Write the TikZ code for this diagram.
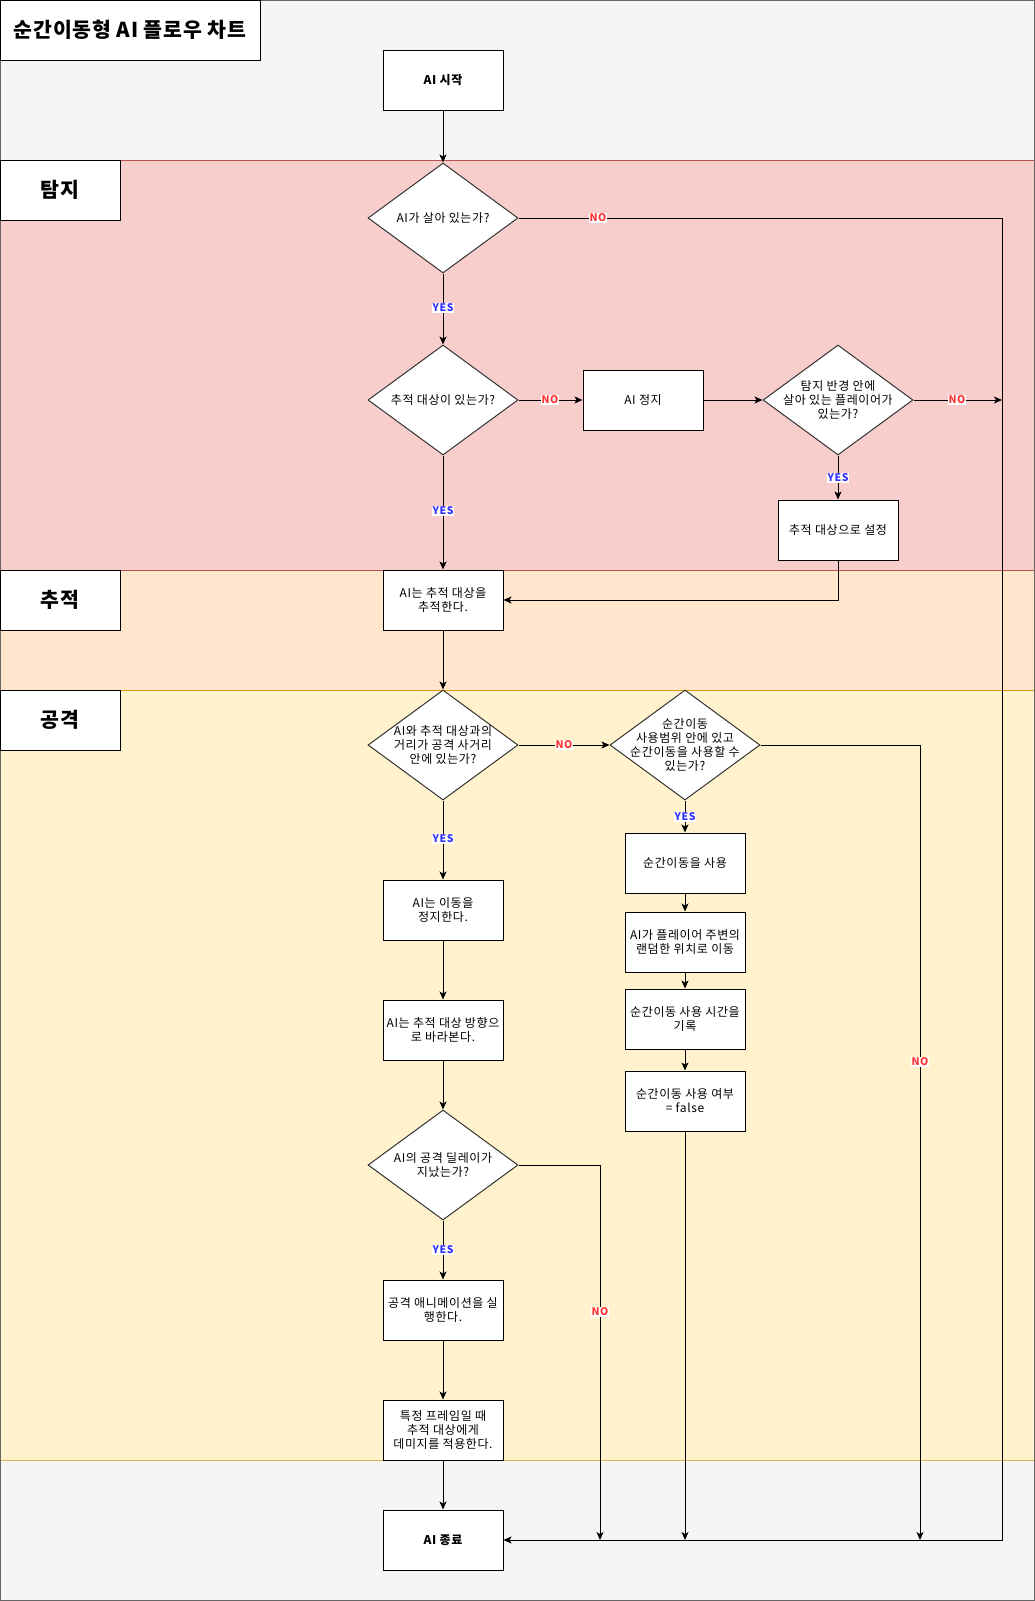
\documentclass[tikz,border=0pt]{standalone}
\usepackage{fontspec}
\setmainfont{Noto Sans CJK KR}
\usetikzlibrary{shapes.geometric,arrows.meta}
\definecolor{bgG}{HTML}{F5F5F5}
\definecolor{bgB}{HTML}{666666}
\definecolor{laneA}{HTML}{F8CECC}
\definecolor{laneAb}{HTML}{B85450}
\definecolor{laneB}{HTML}{FFE6CC}
\definecolor{laneBb}{HTML}{D79B00}
\definecolor{laneC}{HTML}{FFF2CC}
\definecolor{laneCb}{HTML}{D6B656}
\definecolor{noC}{HTML}{FF3333}
\definecolor{yesC}{HTML}{3333FF}
\newcommand{\nodefont}{\fontsize{12}{14}\selectfont\addfontfeatures{LetterSpace=5}}
\newcommand{\bignodefont}{\fontsize{20.5}{24}\selectfont\bfseries\addfontfeatures{LetterSpace=4}}
\newcommand{\labfont}{\fontsize{10.5}{12}\selectfont\bfseries\addfontfeatures{LetterSpace=6}}
\tikzset{
  box/.style={draw=black, fill=white, line width=1pt, minimum width=120pt, minimum height=60pt, inner sep=0pt, align=center, font=\nodefont},
  boldbox/.style={box, font=\nodefont\bfseries},
  dia/.style={draw=black!80, fill=white, line width=1pt, shape=diamond, minimum width=150pt, minimum height=110pt, inner sep=0pt},
  diatext/.style={align=center, inner sep=0pt, font=\nodefont},
  lanelabel/.style={draw=black, fill=white, line width=1pt, minimum width=120pt, minimum height=60pt, inner sep=0pt, font=\bignodefont},
  arr/.style={draw=black, line width=1pt, -{Stealth[length=8pt,width=7pt,inset=2pt]}},
  nolab/.style={fill=white, text=noC, inner sep=1pt, font=\labfont},
  yeslab/.style={fill=white, text=yesC, inner sep=1pt, font=\labfont}
}
\begin{document}
\begin{tikzpicture}[x=1pt,y=-1pt]
\useasboundingbox (0,0) rectangle (1035,1601);
% background
\fill[bgG] (0,0) rectangle (1035,1601);
% lanes
\draw[fill=laneC, draw=laneCb, line width=1pt] (0,690) rectangle (1034,1460);
\draw[fill=laneB, draw=laneBb, line width=1pt] (0,570) rectangle (1034,690);
\draw[fill=laneA, draw=laneAb, line width=1pt] (0,160) rectangle (1034,570);
\draw[bgB, line width=1pt] (0,0) rectangle (1034,1600);
% title and lane labels
\node[draw=black, fill=white, line width=1pt, minimum width=260pt, minimum height=60pt, inner sep=0pt, font=\bignodefont] (title) at (130,30) {순간이동형 AI 플로우 차트};
\node[lanelabel] (lane1) at (60,190) {탐지};
\node[lanelabel] (lane2) at (60,600) {추적};
\node[lanelabel] (lane3) at (60,720) {공격};

% nodes
\node[boldbox] (start) at (443,80) {AI 시작};
\node[dia] (d1) at (443,218) {};
\node[diatext] (d1t) at (d1) {AI가 살아 있는가?};
\node[dia] (d2) at (443,400) {};
\node[diatext] (d2t) at (d2) {추적 대상이 있는가?};
\node[box] (stop) at (643,400) {AI 정지};
\node[dia] (d3) at (838,400) {};
\node[diatext] (d3t) at (d3) {탐지 반경 안에\\살아 있는 플레이어가\\있는가?};
\node[box] (settgt) at (838,530) {추적 대상으로 설정};
\node[box] (track) at (443,600) {AI는 추적 대상을\\추적한다.};
\node[dia] (d4) at (443,745) {};
\node[diatext] (d4t) at (d4) {AI와 추적 대상과의\\거리가 공격 사거리\\안에 있는가?};
\node[dia] (d5) at (685,745) {};
\node[diatext] (d5t) at (d5) {순간이동\\사용범위 안에 있고\\순간이동을 사용할 수\\있는가?};
\node[box] (tp1) at (685,863) {순간이동을 사용};
\node[box] (tp2) at (685,942) {AI가 플레이어 주변의\\랜덤한 위치로 이동};
\node[box] (tp3) at (685,1019) {순간이동 사용 시간을\\기록};
\node[box] (tp4) at (685,1101) {순간이동 사용 여부\\= false};
\node[box] (halt) at (443,910) {AI는 이동을\\정지한다.};
\node[box] (look) at (443,1030) {AI는 추적 대상 방향으\\로 바라본다.};
\node[dia] (d6) at (443,1165) {};
\node[diatext] (d6t) at (d6) {AI의 공격 딜레이가\\지났는가?};
\node[box] (anim) at (443,1310) {공격 애니메이션을 실\\행한다.};
\node[box] (dmg) at (443,1430) {특정 프레임일 때\\추적 대상에게\\데미지를 적용한다.};
\node[boldbox] (end) at (443,1540) {AI 종료};

% coordinates
\coordinate (c1a) at (1002,218);
\coordinate (c1b) at (1002,1540);
\coordinate (c3) at (1002,400);
\coordinate (c5a) at (920,745);
\coordinate (c5b) at (920,1540);
\coordinate (c6a) at (600,1165);
\coordinate (c6b) at (600,1540);
\coordinate (c4) at (685,1540);
\coordinate (cs) at (838,600);

% edges
\draw[arr] (start) -- (d1);
\draw[arr] (d1.east) -- (c1a) -- (c1b) -- (end.east);
\draw[arr] (d1) -- (d2);
\draw[arr] (d2) -- (stop);
\draw[arr] (stop) -- (d3);
\draw[arr] (d3.east) -- (c3);
\draw[arr] (d3) -- (settgt);
\draw[arr] (d2) -- (track);
\draw[arr] (settgt.south) -- (cs) -- (track.east);
\draw[arr] (track) -- (d4);
\draw[arr] (d4) -- (d5);
\draw[arr] (d5.east) -- (c5a) -- (c5b);
\draw[arr] (d5) -- (tp1);
\draw[arr] (tp1) -- (tp2);
\draw[arr] (tp2) -- (tp3);
\draw[arr] (tp3) -- (tp4);
\draw[arr] (tp4.south) -- (c4);
\draw[arr] (d4) -- (halt);
\draw[arr] (halt) -- (look);
\draw[arr] (look) -- (d6);
\draw[arr] (d6.east) -- (c6a) -- (c6b);
\draw[arr] (d6) -- (anim);
\draw[arr] (anim) -- (dmg);
\draw[arr] (dmg) -- (end);

% labels
\node[nolab] (l1) at (598,218) {NO};
\node[yeslab] (l2) at (443,308) {YES};
\node[nolab] (l3) at (550,400) {NO};
\node[nolab] (l4) at (957,400) {NO};
\node[yeslab] (l5) at (838,478) {YES};
\node[yeslab] (l6) at (443,511) {YES};
\node[nolab] (l7) at (564,745) {NO};
\node[yeslab] (l8) at (685,817) {YES};
\node[nolab] (l9) at (920,1062) {NO};
\node[yeslab] (l10) at (443,839) {YES};
\node[yeslab] (l11) at (443,1250) {YES};
\node[nolab] (l12) at (600,1312) {NO};
\end{tikzpicture}
\end{document}
